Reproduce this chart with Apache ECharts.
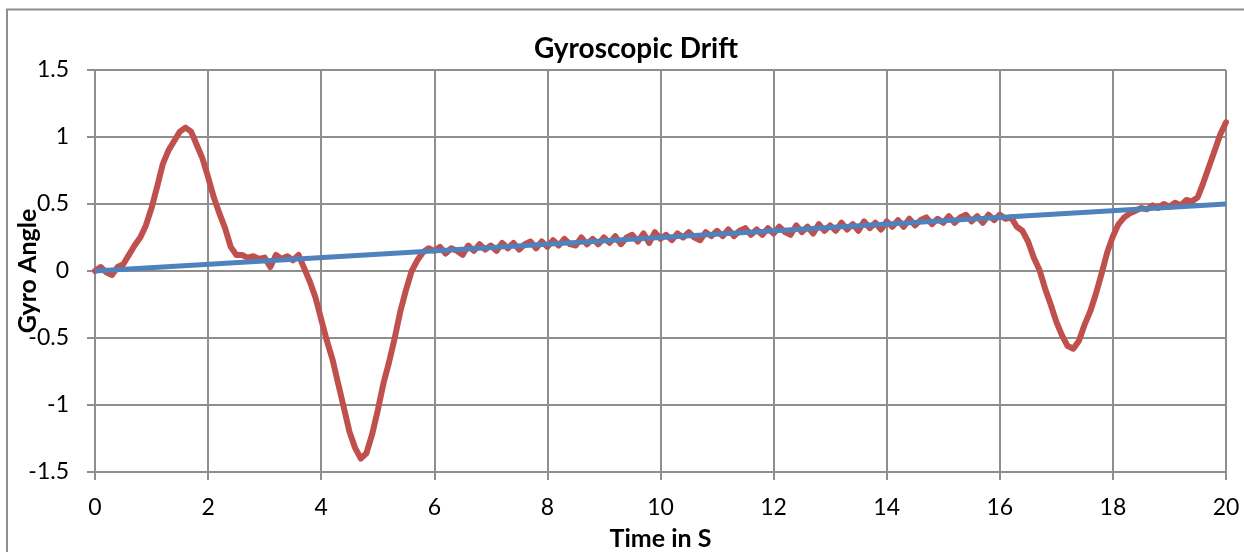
<!DOCTYPE html>
<html>
<head>
<meta charset="utf-8">
<script src="https://cdn.jsdelivr.net/npm/echarts@6/dist/echarts.min.js"></script>
<style>html,body{margin:0;padding:0;background:#fff;}#c{width:1244px;height:552px;}</style>
</head>
<body>
<div id="c"></div>
<script>
// Sample spacing of the gyro readings (seconds)
const sampleStep = 0.1;
// Gyro angle readings, one per sample, from t = 0 s to t = 20 s
const gyroAngle = [
  0.00, 0.03, -0.01, -0.03, 0.03, 0.05, 0.12, 0.19, 0.25, 0.34,
  0.47, 0.63, 0.80, 0.90, 0.97, 1.04, 1.07, 1.04, 0.94, 0.84,
  0.70, 0.55, 0.43, 0.32, 0.18, 0.12, 0.12, 0.10, 0.11, 0.09,
  0.10, 0.03, 0.12, 0.09, 0.11, 0.08, 0.12, 0.02, -0.08, -0.20,
  -0.36, -0.52, -0.66, -0.84, -1.02, -1.20, -1.32, -1.40, -1.36, -1.22,
  -1.04, -0.84, -0.68, -0.50, -0.30, -0.14, 0.00, 0.08, 0.14, 0.17,
  0.15, 0.18, 0.13, 0.17, 0.15, 0.12, 0.19, 0.15, 0.20, 0.16,
  0.19, 0.15, 0.21, 0.17, 0.21, 0.16, 0.20, 0.22, 0.17, 0.22,
  0.18, 0.23, 0.19, 0.24, 0.20, 0.19, 0.25, 0.20, 0.24, 0.20,
  0.25, 0.21, 0.26, 0.20, 0.25, 0.27, 0.22, 0.28, 0.21, 0.29,
  0.24, 0.27, 0.23, 0.28, 0.25, 0.29, 0.25, 0.23, 0.29, 0.26,
  0.30, 0.26, 0.31, 0.26, 0.30, 0.32, 0.27, 0.31, 0.27, 0.32,
  0.28, 0.33, 0.29, 0.27, 0.34, 0.29, 0.33, 0.28, 0.35, 0.30,
  0.34, 0.30, 0.36, 0.31, 0.35, 0.30, 0.37, 0.32, 0.36, 0.31,
  0.37, 0.33, 0.38, 0.33, 0.39, 0.34, 0.38, 0.40, 0.35, 0.39,
  0.36, 0.41, 0.36, 0.40, 0.42, 0.37, 0.41, 0.36, 0.42, 0.38,
  0.42, 0.39, 0.40, 0.33, 0.30, 0.22, 0.10, 0.01, -0.13, -0.25,
  -0.38, -0.48, -0.56, -0.58, -0.52, -0.40, -0.30, -0.17, -0.02, 0.14,
  0.26, 0.35, 0.40, 0.43, 0.45, 0.47, 0.46, 0.49, 0.47, 0.50,
  0.48, 0.51, 0.49, 0.53, 0.52, 0.55, 0.66, 0.78, 0.90, 1.02,
  1.11
];
// Linear drift trend line: endpoints (time, angle)
const driftTimes = [0, 20];
const driftAngles = [0, 0.5];

const gyroData = gyroAngle.map((v, i) => [+(i * sampleStep).toFixed(2), v]);
const driftData = driftTimes.map((t, i) => [t, driftAngles[i]]);

const gridColor = '#8e8e8e';
const fontFamily = 'Lato, "Open Sans", sans-serif';

const chart = echarts.init(document.getElementById('c'), null, {renderer: 'canvas'});
chart.setOption({
  animation: false,
  backgroundColor: '#fff',
  graphic: [{
    type: 'rect',
    shape: {x: 7, y: 9.5, width: 1400, height: 700},
    style: {fill: 'none', stroke: gridColor, lineWidth: 2},
    silent: true, z: -1
  }],
  title: {
    text: 'Gyroscopic Drift',
    left: 631, top: 30, textAlign: 'center',
    textStyle: {fontFamily: fontFamily, fontWeight: 'bold', fontSize: 28, color: '#000'}
  },
  grid: {left: 95, right: 18, top: 70, bottom: 80, containLabel: false, outerBoundsMode: 'none'},
  xAxis: {
    type: 'value', min: 0, max: 20, interval: 2,
    name: 'Time in S', nameLocation: 'middle', nameGap: 54, nameMoveOverlap: false,
    nameTextStyle: {fontFamily: fontFamily, fontWeight: 'bold', fontSize: 25, color: '#000'},
    axisLine: {show: true, onZero: false, lineStyle: {color: gridColor, width: 2}},
    axisTick: {show: true, inside: false, length: 8, lineStyle: {color: gridColor, width: 2}},
    axisLabel: {margin: 24, fontFamily: fontFamily, fontSize: 23, color: '#000'},
    splitLine: {show: true, lineStyle: {color: gridColor, width: 2}}
  },
  yAxis: {
    type: 'value', min: -1.5, max: 1.5, interval: 0.5,
    name: 'Gyro Angle', nameLocation: 'middle', nameGap: 55, nameRotate: 90, nameMoveOverlap: false,
    nameTextStyle: {fontFamily: fontFamily, fontWeight: 'bold', fontSize: 25, color: '#000'},
    axisLine: {show: true, onZero: false, lineStyle: {color: gridColor, width: 2}},
    axisTick: {show: true, inside: false, length: 8, lineStyle: {color: gridColor, width: 2}},
    axisLabel: {margin: 26, fontFamily: fontFamily, fontSize: 23, color: '#000'},
    splitLine: {show: true, lineStyle: {color: gridColor, width: 2}}
  },
  series: [
    {
      name: 'Gyro Angle', type: 'line', data: gyroData, showSymbol: false, symbol: 'none',
      lineStyle: {color: '#C0504D', width: 6, join: 'round', cap: 'round'}, z: 2
    },
    {
      name: 'Drift', type: 'line', data: driftData, showSymbol: false, symbol: 'none',
      lineStyle: {color: '#4F81BD', width: 5}, z: 3
    }
  ]
});
</script>
</body>
</html>
